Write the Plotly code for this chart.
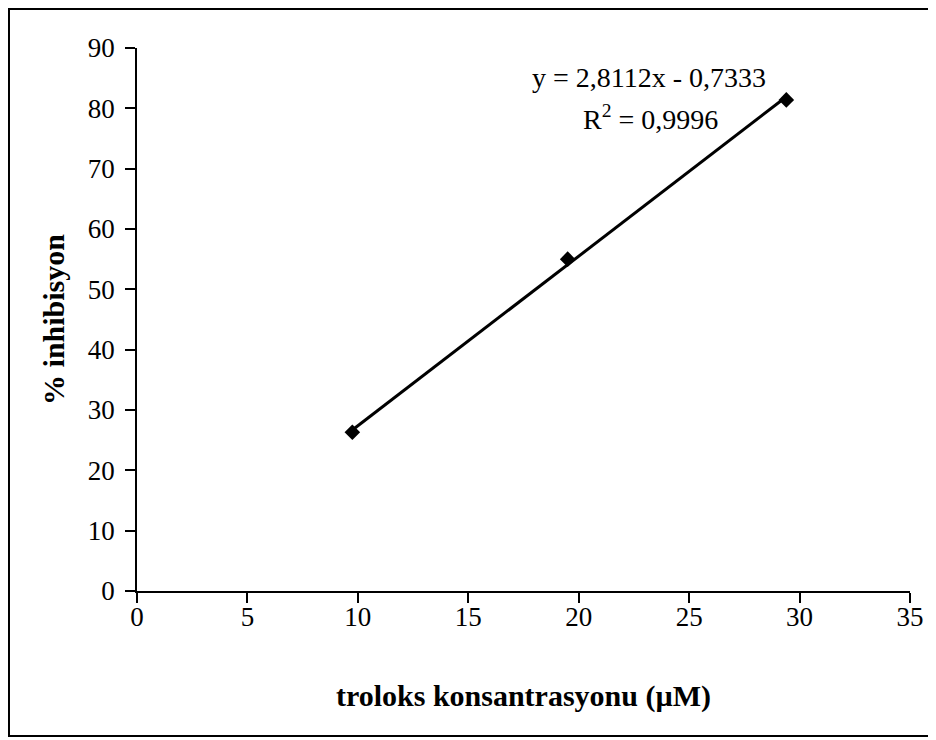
import plotly.graph_objects as go

concentration = [9.75, 19.5, 29.4]
inhibition = [26.3, 55.0, 81.4]
slope = 2.8112
intercept = -0.7333
eq_text = "y = 2,8112x - 0,7333"
r2_text = "R<sup>2</sup> = 0,9996"
x_ticks = [0, 5, 10, 15, 20, 25, 30, 35]
y_ticks = [0, 10, 20, 30, 40, 50, 60, 70, 80, 90]

FONT = "Liberation Serif, Times New Roman, serif"

trend_x = [min(concentration), max(concentration)]
trend_y = [slope * v + intercept for v in trend_x]

fig = go.Figure()
fig.add_trace(go.Scatter(x=trend_x, y=trend_y, mode="lines",
                         line=dict(color="black", width=3), showlegend=False,
                         hoverinfo="skip"))
fig.add_trace(go.Scatter(x=concentration, y=inhibition, mode="markers",
                         marker=dict(symbol="diamond", size=12, color="black"),
                         showlegend=False))

fig.update_layout(
    width=936, height=740,
    margin=dict(l=129, r=34, t=40, b=157),
    paper_bgcolor="white", plot_bgcolor="white",
    font=dict(family=FONT, size=27, color="black"),
    xaxis=dict(range=[0, 35], tickvals=x_ticks, showgrid=False, zeroline=False,
               showline=True, linecolor="black", linewidth=1.5,
               ticks="outside", ticklen=10, tickwidth=1.5, tickcolor="black",
               tickfont=dict(size=27), ticklabelstandoff=-9,
               title=dict(text="<b>troloks konsantrasyonu (µM)</b>", standoff=54,
                          font=dict(size=30))),
    yaxis=dict(range=[0, 90], tickvals=y_ticks, showgrid=False, zeroline=False,
               showline=True, linecolor="black", linewidth=1.5,
               ticks="outside", ticklen=10, tickwidth=1.5, tickcolor="black",
               tickfont=dict(size=27), ticklabelstandoff=5,
               title=dict(text="<b>% inhibisyon</b>", standoff=14,
                          font=dict(size=30))),
    annotations=[
        dict(x=23.16, y=85.1, xref="x", yref="y", text=eq_text, showarrow=False,
             font=dict(size=28)),
        dict(x=23.25, y=78.4, xref="x", yref="y", text=r2_text, showarrow=False,
             font=dict(size=28)),
    ],
    shapes=[dict(type="rect", xref="paper", yref="paper",
                 x0=-0.1656, x1=1.0259, y0=-0.267, y1=1.0718,
                 line=dict(color="black", width=2), fillcolor="rgba(0,0,0,0)",
                 layer="below")],
)

fig.write_html("out.html")
